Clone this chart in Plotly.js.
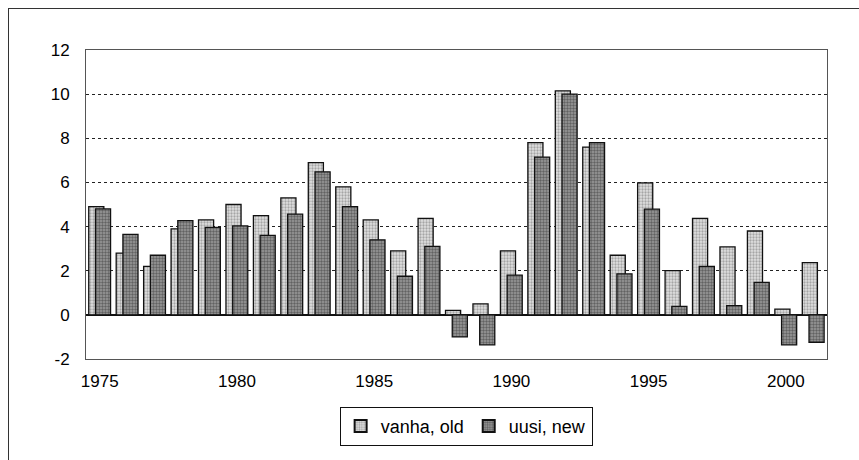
<!DOCTYPE html>
<html>
<head>
<meta charset="utf-8">
<script src="https://cdn.plot.ly/plotly-3.0.1.min.js"></script>
<style>
  html, body { margin: 0; padding: 0; background: #fff; }
  #wrap { position: relative; width: 859px; height: 460px; }
  #chart { position: absolute; left: 0; top: 0; width: 859px; height: 460px; }
  #frame { position: absolute; left: 8px; top: 8px; width: 860px; height: 470px;
           border-left: 1.5px solid #333; border-top: 1.5px solid #333; pointer-events: none; }
</style>
</head>
<body>
<div id="wrap">
  <div id="chart"></div>
  <div id="frame"></div>
</div>
<script>
const years = [1975,1976,1977,1978,1979,1980,1981,1982,1983,1984,1985,1986,1987,1988,1989,1990,1991,1992,1993,1994,1995,1996,1997,1998,1999,2000,2001];
const oldValues = [4.9,2.8,2.2,3.9,4.3,5.0,4.5,5.3,6.9,5.8,4.3,2.9,4.37,0.2,0.5,2.9,7.8,10.15,7.6,2.7,5.98,2.0,4.37,3.08,3.8,0.26,2.37];
const newValues = [4.8,3.65,2.7,4.27,3.96,4.03,3.6,4.56,6.48,4.9,3.4,1.75,3.1,-1.0,-1.36,1.8,7.15,10.0,7.8,1.86,4.79,0.38,2.2,0.42,1.47,-1.36,-1.24];
const seriesNames = ['vanha, old', 'uusi, new'];
const yTicks = [-2,0,2,4,6,8,10,12];
const xTicks = [1975,1980,1985,1990,1995,2000];

const font = 'Liberation Sans, Arial, sans-serif';

const traces = [
  {
    type: 'bar', name: seriesNames[0], x: years, y: oldValues,
    width: 0.55, offset: -0.4,
    marker: { color: '#d8d8d8', line: { color: '#111', width: 1.3 },
              pattern: { shape: '.', fillmode: 'overlay', bgcolor: '#e0e0e0', fgcolor: '#6a6a6a', size: 3, solidity: 0.45 } }
  },
  {
    type: 'bar', name: seriesNames[1], x: years, y: newValues,
    width: 0.55, offset: -0.155,
    marker: { color: '#8a8a8a', line: { color: '#111', width: 1.3 },
              pattern: { shape: '.', fillmode: 'overlay', bgcolor: '#9a9a9a', fgcolor: '#2a2a2a', size: 3, solidity: 0.5 } }
  }
];

const layout = {
  width: 859, height: 460,
  margin: { l: 86, r: 32, t: 50, b: 101 },
  paper_bgcolor: 'rgba(0,0,0,0)',
  plot_bgcolor: '#fff',
  barmode: 'overlay',
  showlegend: true,
  legend: {
    orientation: 'h', x: 0.513, xanchor: 'center', y: -0.155, yanchor: 'top',
    bordercolor: '#111', borderwidth: 1, bgcolor: '#fff',
    font: { family: font, size: 18, color: '#000' },
    itemwidth: 30, tracegroupgap: 0, itemsizing: 'constant',
    entrywidth: 0
  },
  xaxis: {
    range: [1974.5, 2001.5],
    tickvals: xTicks, ticktext: xTicks.map(String),
    showgrid: false, zeroline: false,
    showline: true, mirror: true, linecolor: '#555', linewidth: 1,
    ticks: '', ticklabelstandoff: 7,
    tickfont: { family: font, size: 17, color: '#000' }
  },
  yaxis: {
    range: [-2, 12],
    tickvals: yTicks, ticktext: yTicks.map(String),
    showgrid: true, gridcolor: '#222', griddash: 'dot', gridwidth: 1,
    zeroline: true, zerolinecolor: '#111', zerolinewidth: 1.3,
    showline: true, mirror: true, linecolor: '#555', linewidth: 1,
    ticks: '', ticklabelstandoff: 12,
    tickfont: { family: font, size: 17, color: '#000' }
  }
};

Plotly.newPlot('chart', traces, layout, { displayModeBar: false, staticPlot: true });
</script>
</body>
</html>
